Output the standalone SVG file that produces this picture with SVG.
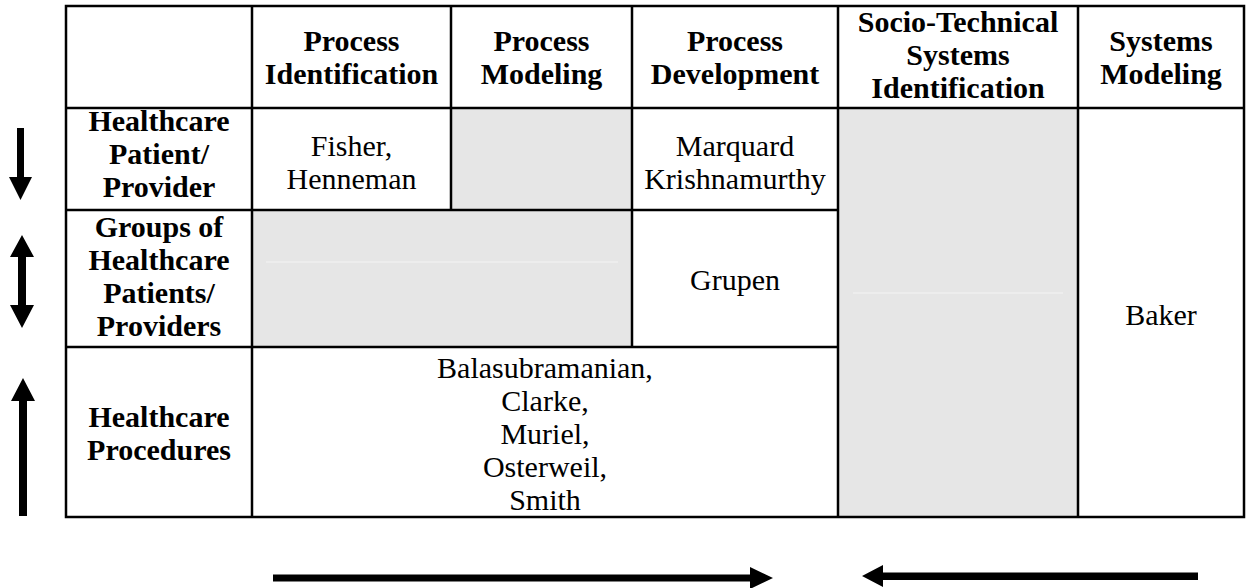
<svg xmlns="http://www.w3.org/2000/svg" width="1247" height="588" viewBox="0 0 1247 588">
<style>
.h{font-family:"Liberation Serif","Times New Roman",serif;font-size:30px;font-weight:bold;fill:#000;text-anchor:middle}
.t{font-family:"Liberation Serif","Times New Roman",serif;font-size:30px;fill:#000;text-anchor:middle}
.gray{fill:#e6e6e6}
.ln{stroke:#000;stroke-width:2.5;fill:none}
.faint{stroke:#efefef;stroke-width:1.5}
.arr{fill:#000}
</style>
<rect width="1247" height="588" fill="#fff"/>
<g id="fills">
<rect class="gray" x="451" y="108" width="181" height="102"/>
<rect class="gray" x="252" y="210" width="380" height="137"/>
<rect class="gray" x="838" y="108" width="240" height="409"/>
<line class="faint" x1="266" y1="262" x2="618" y2="262"/>
<line class="faint" x1="853" y1="293" x2="1063" y2="293"/>
</g>
<g id="grid">
<rect class="ln" x="66" y="6" width="1178" height="511"/>
<line class="ln" x1="66" y1="108" x2="1244" y2="108"/>
<line class="ln" x1="66" y1="210" x2="838" y2="210"/>
<line class="ln" x1="66" y1="347" x2="838" y2="347"/>
<line class="ln" x1="252" y1="6" x2="252" y2="517"/>
<line class="ln" x1="451" y1="6" x2="451" y2="210"/>
<line class="ln" x1="632" y1="6" x2="632" y2="347"/>
<line class="ln" x1="838" y1="6" x2="838" y2="517"/>
<line class="ln" x1="1078" y1="6" x2="1078" y2="517"/>
</g>
<g id="header-process-identification">
<text class="h" x="351.5" y="51">Process</text>
<text class="h" x="351.5" y="84">Identification</text>
</g>
<g id="header-process-modeling">
<text class="h" x="541.5" y="51">Process</text>
<text class="h" x="541.5" y="84">Modeling</text>
</g>
<g id="header-process-development">
<text class="h" x="735" y="51">Process</text>
<text class="h" x="735" y="84">Development</text>
</g>
<g id="header-socio-technical">
<text class="h" x="958" y="32">Socio-Technical</text>
<text class="h" x="958" y="65">Systems</text>
<text class="h" x="958" y="98">Identification</text>
</g>
<g id="header-systems-modeling">
<text class="h" x="1161" y="51">Systems</text>
<text class="h" x="1161" y="84">Modeling</text>
</g>
<g id="row-patient-provider">
<text class="h" x="159" y="131">Healthcare</text>
<text class="h" x="159" y="164">Patient/</text>
<text class="h" x="159" y="197">Provider</text>
</g>
<g id="row-groups">
<text class="h" x="159" y="237">Groups of</text>
<text class="h" x="159" y="270">Healthcare</text>
<text class="h" x="159" y="303">Patients/</text>
<text class="h" x="159" y="336">Providers</text>
</g>
<g id="row-procedures">
<text class="h" x="159" y="427">Healthcare</text>
<text class="h" x="159" y="460">Procedures</text>
</g>
<g id="cell-fisher">
<text class="t" x="351.5" y="156">Fisher,</text>
<text class="t" x="351.5" y="189">Henneman</text>
</g>
<g id="cell-marquard">
<text class="t" x="735" y="156">Marquard</text>
<text class="t" x="735" y="189">Krishnamurthy</text>
</g>
<g id="cell-grupen">
<text class="t" x="735" y="290">Grupen</text>
</g>
<g id="cell-baker">
<text class="t" x="1161" y="325">Baker</text>
</g>
<g id="cell-procedures-authors">
<text class="t" x="545" y="378">Balasubramanian,</text>
<text class="t" x="545" y="411">Clarke,</text>
<text class="t" x="545" y="444">Muriel,</text>
<text class="t" x="545" y="477">Osterweil,</text>
<text class="t" x="545" y="510">Smith</text>
</g>
<g id="connectors">
<path class="arr" d="M17,128 H24 V177 H32 L20.5,200 L9,177 H17 Z"/>
<path class="arr" d="M22,235 L34,257 H26 V305 H34 L22,328 L10,305 H18 V257 H10 Z"/>
<path class="arr" d="M23,378 L35,401 H27 V516 H19 V401 H11 Z"/>
<path class="arr" d="M273,574.5 H750 V567 L773,578 L750,589 V581.5 H273 Z"/>
<path class="arr" d="M862,576 L883,565 V572.5 H1198 V580 H883 V587 Z"/>
</g>
</svg>
